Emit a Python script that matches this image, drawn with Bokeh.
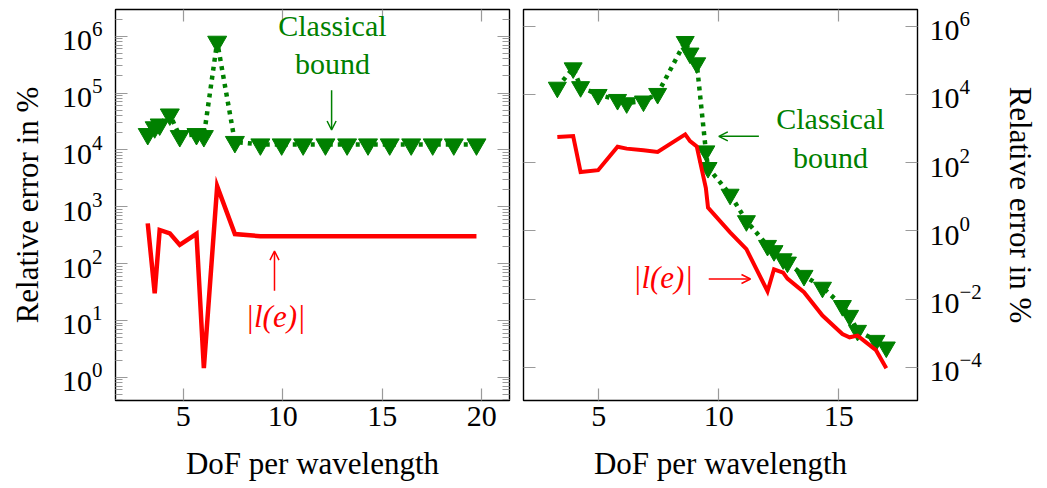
from bokeh.plotting import figure
from bokeh.layouts import row
from bokeh.models import (LogAxis, LinearAxis, FixedTicker, Range1d, Label, Arrow,
                          OpenHead, CustomJSTickFormatter)
from bokeh.embed import file_html
from bokeh.resources import INLINE

# ---------------- data ----------------
# left panel
dof_left = [3.22, 3.57, 3.82, 4.33, 4.83, 5.67, 6.04, 6.71, 7.6, 8.88, 9.95,
            11.03, 12.15, 13.24, 14.29, 15.38, 16.46, 17.54, 18.6, 19.74]
bound_left = [1.9e4, 2.5e4, 2.8e4, 4.2e4, 1.75e4, 1.9e4, 1.75e4, 8.0e5, 1.38e4,
              1.25e4, 1.25e4, 1.25e4, 1.25e4, 1.25e4, 1.25e4, 1.25e4, 1.25e4,
              1.25e4, 1.25e4, 1.25e4]
err_left = [510, 30, 390, 340, 213, 333, 1.45, 2300, 330, 303, 302, 302, 302,
            302, 302, 302, 302, 302, 302, 302]

# right panel
dof_right = [3.27, 3.93, 4.24, 4.97, 5.78, 6.16, 6.86, 7.45, 8.6, 8.8, 9.08,
             9.46, 9.55, 10.47, 11.15, 12.03, 12.3, 12.68, 12.86, 13.55, 14.32,
             15.15, 15.45, 15.78, 16.55, 16.98]
bound_right = [1.6e4, 5.9e4, 1.66e4, 9.8e3, 7.0e3, 5.6e3, 6.3e3, 1.05e4, 3.5e5,
               1.6e5, 8.3e4, 218, 71, 11.7, 1.96, 0.37, 0.26, 0.15, 0.12, 0.049,
               0.022, 0.0064, 0.0033, 0.0012, 6.1e-4, 3.9e-4]
err_right = [560, 600, 53, 60, 293, 257, 229, 206, 670, 425, 300, 18, 4.8, 0.9,
             0.29, 0.017, 0.075, 0.06, 0.04, 0.016, 0.0033, 9.5e-4, 7.6e-4,
             8.5e-4, 3.2e-4, 9.5e-5]

x_ticks_left = [5, 10, 15, 20]
x_ticks_right = [5, 10, 15]
y_ticks_left = [1, 10, 100, 1e3, 1e4, 1e5, 1e6]
y_minor_left = [m * 10 ** k for k in range(-1, 7) for m in range(2, 10)]
y_ticks_right = [1e-4, 1e-2, 1, 1e2, 1e4, 1e6]

GREEN = "#008000"
RED = "#ff0000"
FONT = "Liberation Serif"
TICK_COLOR = "#9a9a9a"
BLANK = CustomJSTickFormatter(code="return ''")


def style_axis(ax, standoff=12, show_labels=True):
    ax.axis_line_color = None
    ax.major_tick_in = 12
    ax.major_tick_out = 0
    ax.minor_tick_in = 7
    ax.minor_tick_out = 0
    ax.major_tick_line_color = TICK_COLOR
    ax.minor_tick_line_color = TICK_COLOR
    ax.major_tick_line_width = 1.2
    ax.minor_tick_line_width = 1.2
    ax.major_label_text_font = FONT
    ax.major_label_text_font_size = "30px"
    ax.major_label_text_color = "black"
    ax.major_label_standoff = standoff
    ax.axis_label_text_font = FONT
    ax.axis_label_text_font_size = "31px"
    ax.axis_label_text_font_style = "normal"
    ax.axis_label_text_color = "black"
    if not show_labels:
        ax.major_label_standoff = 0
        ax.major_label_text_font_size = "0px"


def base_figure(**kw):
    p = figure(y_axis_type="log", output_backend="svg", toolbar_location=None,
               background_fill_color="white", border_fill_color="white", **kw)
    p.xgrid.visible = False
    p.ygrid.visible = False
    p.outline_line_color = "black"
    p.outline_line_width = 1.4
    return p


def note(p, x, y, text, color, italic=False, size="30px"):
    p.add_layout(Label(x=x, y=y, text=text, text_align="center",
                       text_baseline="alphabetic", text_color=color,
                       text_font=FONT, text_font_size=size,
                       text_font_style="italic" if italic else "normal"))


def pointer(p, x0, y0, x1, y1, color):
    p.add_layout(Arrow(end=OpenHead(size=9, line_color=color, line_width=1.5),
                       x_start=x0, y_start=y0, x_end=x1, y_end=y1,
                       line_color=color, line_width=1.5))


# ---------------- left panel ----------------
p1 = base_figure(width=515, height=488,
                 x_range=Range1d(1.6, 21.4), y_range=Range1d(0.39, 2.95e6),
                 min_border_left=115, min_border_right=6,
                 min_border_top=6, min_border_bottom=88)
p1.xaxis.ticker = FixedTicker(ticks=x_ticks_left)
p1.yaxis.ticker = FixedTicker(ticks=y_ticks_left, minor_ticks=y_minor_left)
p1.xaxis.axis_label = "DoF per wavelength"
p1.yaxis.axis_label = "Relative error in %"
style_axis(p1.xaxis[0], standoff=6)
style_axis(p1.yaxis[0], standoff=13)
p1.xaxis.axis_label_standoff = 17
p1.yaxis.axis_label_standoff = 14

top1 = LinearAxis(ticker=FixedTicker(ticks=x_ticks_left), formatter=BLANK)
right1 = LogAxis(ticker=FixedTicker(ticks=y_ticks_left, minor_ticks=y_minor_left),
                 formatter=BLANK)
style_axis(top1, show_labels=False)
style_axis(right1, show_labels=False)
p1.add_layout(top1, "above")
p1.add_layout(right1, "right")

p1.line(dof_left, bound_left, line_color=GREEN, line_width=4.5,
        line_dash="4 5", line_cap="butt")
p1.scatter(dof_left, bound_left, marker="inverted_triangle", size=19,
           fill_color=GREEN, line_color=GREEN)
p1.line(dof_left, err_left, line_color=RED, line_width=4.5, line_join="miter")

note(p1, 12.5, 10 ** 6.19, "Classical", GREEN)
note(p1, 12.5, 10 ** 5.52, "bound", GREEN)
pointer(p1, 12.46, 1.12e5, 12.46, 2.24e4, GREEN)
note(p1, 9.64, 10 ** 1.07, "|l(e)|", RED, italic=True, size="31px")
pointer(p1, 9.59, 33.3, 9.59, 166, RED)

# ---------------- right panel ----------------
p2 = base_figure(width=532, height=488, y_axis_location="right",
                 x_range=Range1d(1.86, 18.28), y_range=Range1d(1.07e-5, 3.07e6),
                 min_border_left=8, min_border_right=130,
                 min_border_top=9, min_border_bottom=86)
p2.xaxis.ticker = FixedTicker(ticks=x_ticks_right)
p2.yaxis.ticker = FixedTicker(ticks=y_ticks_right, minor_ticks=[])
p2.xaxis.axis_label = "DoF per wavelength"
p2.yaxis.axis_label = "Relative error in %"
style_axis(p2.xaxis[0], standoff=6)
style_axis(p2.yaxis[0], standoff=12)
p2.xaxis.axis_label_standoff = 17
p2.yaxis.axis_label_standoff = 18

top2 = LinearAxis(ticker=FixedTicker(ticks=x_ticks_right), formatter=BLANK)
left2 = LogAxis(ticker=FixedTicker(ticks=y_ticks_right, minor_ticks=[]),
                formatter=BLANK)
style_axis(top2, show_labels=False)
style_axis(left2, show_labels=False)
p2.add_layout(top2, "above")
p2.add_layout(left2, "left")

p2.line(dof_right, bound_right, line_color=GREEN, line_width=4.5,
        line_dash="4 5", line_cap="butt")
p2.scatter(dof_right, bound_right, marker="inverted_triangle", size=18,
           fill_color=GREEN, line_color=GREEN)
p2.line(dof_right, err_right, line_color=RED, line_width=4, line_join="miter")

note(p2, 14.65, 10 ** 3.30, "Classical", GREEN)
note(p2, 14.65, 10 ** 2.16, "bound", GREEN)
pointer(p2, 11.67, 590, 10.0, 590, GREEN)
note(p2, 7.67, 10 ** -1.36, "|l(e)|", RED, italic=True, size="31px")
pointer(p2, 9.58, 0.039, 11.32, 0.039, RED)

layout = row(p1, p2)
open("out.html", "w").write(file_html(layout, INLINE))
